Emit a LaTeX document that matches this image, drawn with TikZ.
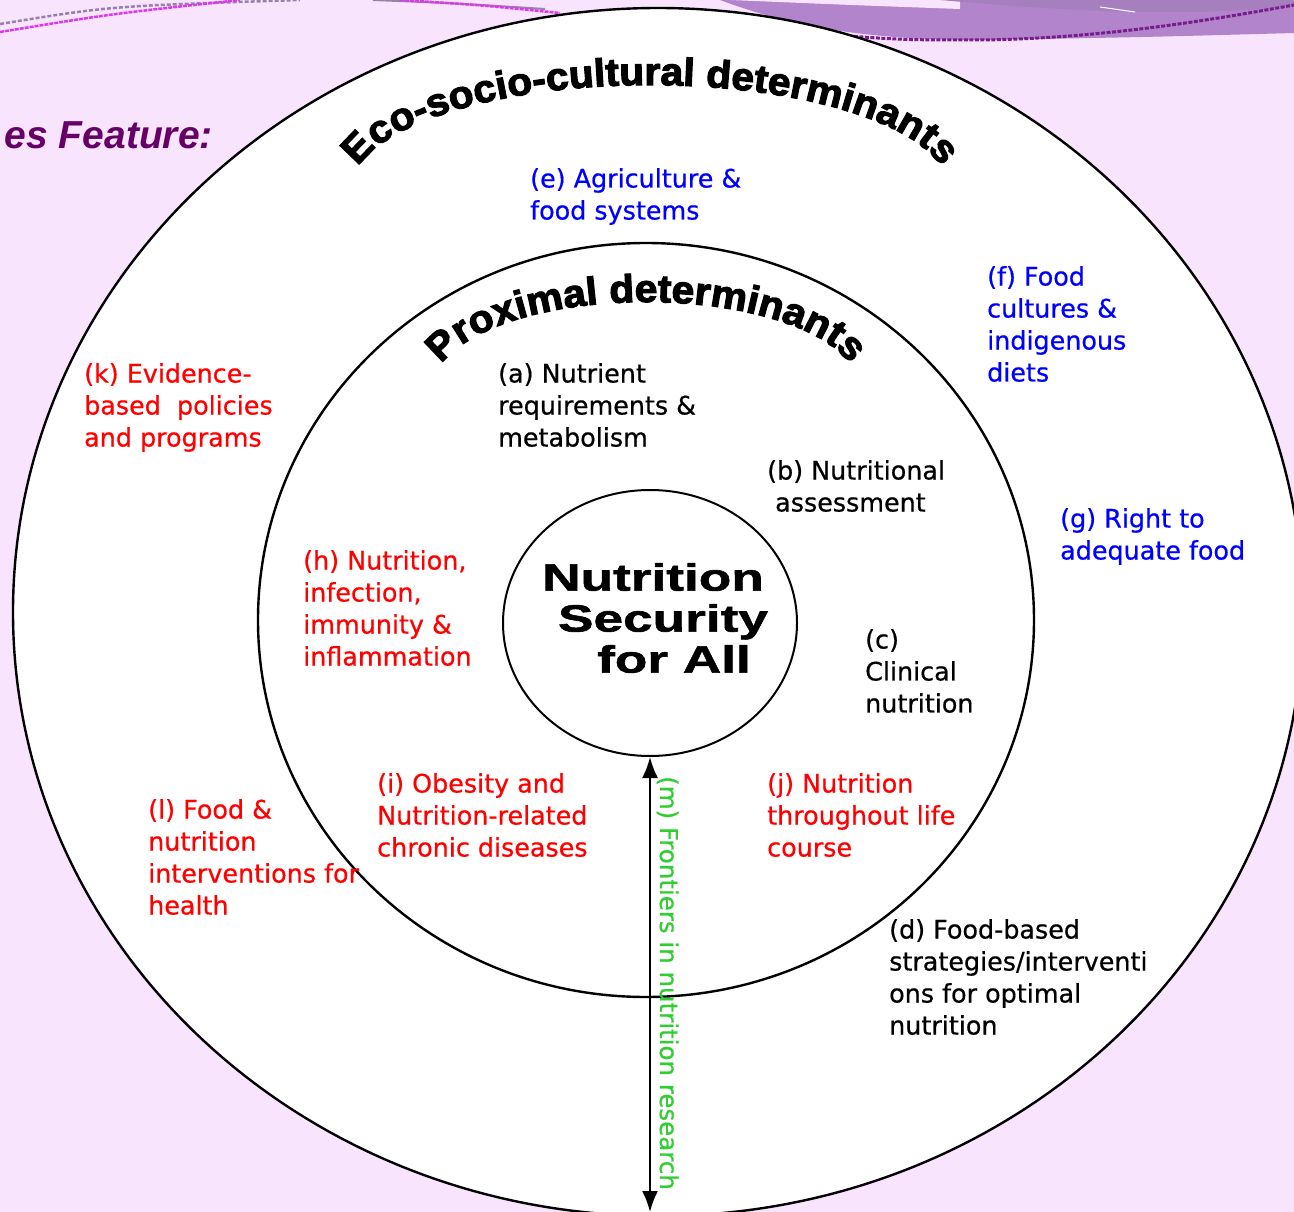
\documentclass[tikz,border=0pt]{standalone}
\usepackage{fontspec}
\setmainfont{DejaVu Sans}[FakeBold=0.6]
\newfontfamily\headfont{Liberation Sans}
\newfontfamily\arcfont{Liberation Sans Bold}[FakeBold=3,FakeStretch=1.045]
\newfontfamily\corefont{Liberation Sans Bold}[FakeStretch=1.4,FakeBold=1.5]
\usetikzlibrary{shapes.geometric,decorations.text,arrows.meta}
\definecolor{slidebg}{RGB}{249,228,253}
\definecolor{bandpurple}{RGB}{178,132,204}
\definecolor{darkpurple}{RGB}{166,128,190}
\definecolor{dotpurple}{RGB}{120,30,140}
\definecolor{greypurple}{RGB}{150,130,170}
\definecolor{magentaline}{RGB}{215,60,230}
\definecolor{featpurple}{RGB}{102,0,102}
\definecolor{ecoblue}{RGB}{0,0,255}
\definecolor{labred}{RGB}{255,0,0}
\definecolor{frgreen}{RGB}{50,205,50}

\begin{document}
\begin{tikzpicture}[x=1pt,y=-1pt]

        % Setup the styles for the rings and the texts
        \tikzset{ring style/.style={ellipse,
                                    draw=black,
                                    fill=white,
                                    inner sep=0pt,
                                    line width=2.4pt},
                 item text/.style={anchor=north west,
                                   inner sep=0pt,
                                   align=left,
                                   font=\fontsize{25.4}{32}\selectfont},
                 arc heading/.style={decorate,
                                     decoration={text along path,
                                                 text align=center,
                                                 text={|\arcfont\fontsize{39}{39}\selectfont|#1}}}}

        % Slide background
        \useasboundingbox (0,0) rectangle (1294,1212);
        \clip (0,0) rectangle (1294,1212);
        \fill[slidebg] (0,0) rectangle (1294,1212);

        % Swooshes along the top edge
        \fill[bandpurple] (720,0) -- (1294,0) -- (1294,33)
            .. controls (1150,37) .. (983,40)
            .. controls (880,40) and (800,30) .. (720,0) -- cycle;
        \fill[slidebg] (730,0) .. controls (850,5) .. (960,9) -- (960,0) -- cycle;
        \fill[darkpurple] (940,0) -- (1294,0) -- (1294,6)
            .. controls (1200,16) and (1100,14) .. (940,0) -- cycle;
        \draw[white, line width=1pt] (1100,7) -- (1135,12);
        \draw[dotpurple, line width=3pt, dash pattern=on 4pt off 1.5pt]
            (810,33) .. controls (900,40) .. (983,40)
            .. controls (1100,38) and (1200,22) .. (1294,5);
        \draw[greypurple, line width=2.5pt, dash pattern=on 4pt off 2pt]
            (0,24) .. controls (110,6) .. (300,0);
        \draw[magentaline, line width=2.5pt, dash pattern=on 4pt off 1pt]
            (0,32) .. controls (110,14) .. (240,0);
        \draw[greypurple, line width=2pt] (373,0) .. controls (450,3) .. (545,9);
        \draw[magentaline, line width=2.5pt, dash pattern=on 4pt off 1pt]
            (400,0) .. controls (480,5) .. (560,13);

        % Slide title fragment
        \node[anchor=base east, inner sep=0pt, text=featpurple,
              font=\headfont\bfseries\itshape\fontsize{39}{39}\selectfont]
            at (213,149) (feature) {es Feature:};

        % Draw the rings
        \node[ring style, minimum width=1290pt, minimum height=1208pt] at (658,612) (eco) {};
        \node[ring style, minimum width=776pt, minimum height=754pt] at (646,620) (prox) {};
        \node[ring style, minimum width=294pt, minimum height=266pt, line width=2pt] at (650,623) (core) {};
        \node[inner sep=0pt, align=center, font=\corefont\fontsize{38}{41}\selectfont]
            at (653,618) (slogan) {Nutrition\\\hspace*{20pt}Security\\\hspace*{42pt}for All};

        % Headings arched over the rings
        \path[arc heading={Eco-socio-cultural determinants}]
            (650,190) ++(-174:299 and 105) arc[start angle=-174, end angle=-6, x radius=299, y radius=105];
        \path[arc heading={Proximal determinants}]
            (646,387) ++(-172:212 and 85) arc[start angle=-172, end angle=-8, x radius=212, y radius=85];

        % Themes of the outer ring
        \node[item text, text=ecoblue] at (530,168) (agri) {(e) Agriculture \&\\food systems};
        \node[item text, text=ecoblue] at (987,266) (cult) {(f) Food\\cultures \&\\indigenous\\diets};
        \node[item text, text=ecoblue] at (1060,508) (right) {(g) Right to\\adequate food};
        \node[item text, text=labred] at (84,363) (evid) {(k) Evidence-\\based~ policies\\and programs};
        \node[item text, text=labred] at (148,799) (interv) {(l) Food \&\\nutrition\\interventions for\\health};
        \node[item text] at (889,919) (strat) {(d) Food-based\\strategies/interventi\\ons for optimal\\nutrition};

        % Themes of the middle ring
        \node[item text] at (498,363) (nutr) {(a) Nutrient\\requirements \&\\metabolism};
        \node[item text] at (767,460) (assess) {(b) Nutritional\\\hspace*{8pt}assessment};
        \node[item text, text=labred] at (303,550) (infect) {(h) Nutrition,\\infection,\\immunity \&\\inflammation};
        \node[item text] at (865,629) (clin) {(c)\\Clinical\\nutrition};
        \node[item text, text=labred] at (377,773) (obes) {(i) Obesity and\\Nutrition-related\\chronic diseases};
        \node[item text, text=labred] at (767,773) (life) {(j) Nutrition\\throughout life\\course};

        % Research axis
        \coordinate (axis end) at (650,1212);
        \draw[<->, >={Latex[length=21pt,width=16pt]}, line width=2pt] (core.south) -- (axis end);
        \node[rotate=-90, anchor=base west, inner sep=0pt, text=frgreen,
              font=\fontsize{24.5}{30}\selectfont]
            at (660,776) (front) {(m) Frontiers in nutrition research};
\end{tikzpicture}
\end{document}
